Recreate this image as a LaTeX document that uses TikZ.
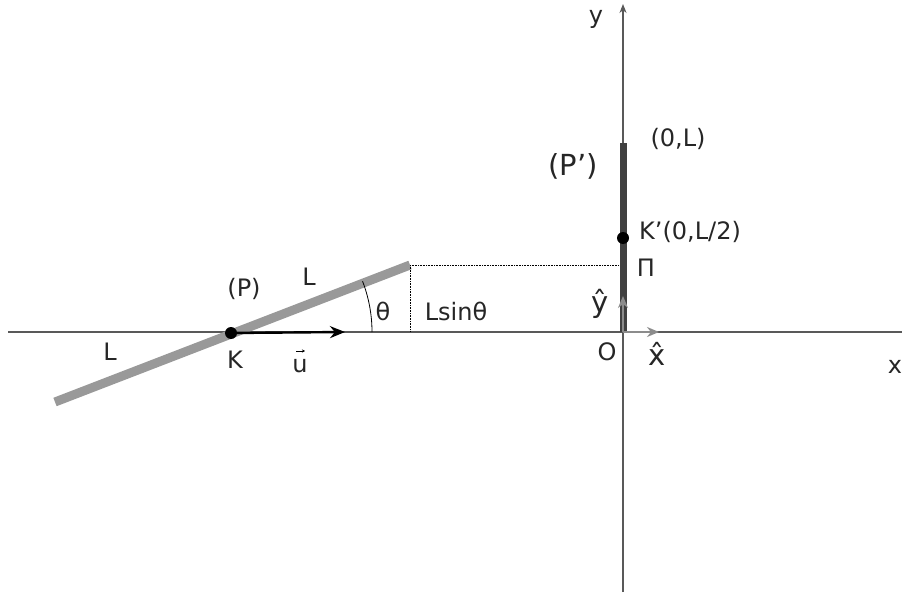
\documentclass[tikz,border=0pt]{standalone}
\usepackage{fontspec}
\setmainfont{DejaVu Sans}
\usetikzlibrary{arrows.meta}
\begin{document}
\begin{tikzpicture}[x=1pt,y=-1pt,
  axis/.style={draw=black!65,line width=1.3pt},
  lbl/.style={font=\fontsize{24}{26}\selectfont,inner sep=0pt,text=black!85},
  biglbl/.style={font=\fontsize{29}{31}\selectfont,inner sep=0pt,text=black!85},
  dot/.style={circle,fill=black,inner sep=0pt,minimum size=12pt},
  guide/.style={densely dotted,line width=0.6pt},
  unitvec/.style={draw=black!45,line width=2.2pt,-{Stealth[length=12pt,width=10pt]}}]
\useasboundingbox (0,0) rectangle (902,596);
% axes
\coordinate (xl) at (8,332);
\coordinate (xr) at (902,332);
\coordinate (yb) at (623,592);
\coordinate (yt) at (623,4);
\draw[axis] (xl) -- (xr);
\draw[axis,-{Stealth[length=9pt,width=7pt,fill=black]}] (yb) -- (yt);
% rod P
\coordinate (pa) at (55,402);
\coordinate (pb) at (410,265);
\draw[draw=black!40,line width=9pt] (pa) -- (pb);
\node[dot] (K) at (231,333) {};
\coordinate (ue) at (345,332);
\draw[line width=2.4pt,-{Stealth[length=15pt,width=12pt]}] (K.center) -- (ue);
% angle
\draw[line width=0.8pt] (372,332) arc[start angle=0,end angle=-21.1,radius=141];
% guides
\coordinate (pf) at (410,332);
\coordinate (pi) at (623,265);
\draw[guide] (pb) -- (pf);
\draw[guide] (pb) -- (pi);
% rod P'
\coordinate (qa) at (623,332);
\coordinate (qb) at (623,143);
\draw[draw=black!75,line width=7pt] (qa) -- (qb);
\node[dot] (Kp) at (623,238) {};
% unit vectors
\coordinate (O) at (623,332);
\coordinate (yh) at (623,296);
\coordinate (xh) at (659,332);
\draw[unitvec] (O) -- (yh);
\draw[unitvec] (O) -- (xh);
% labels
\node[lbl] at (596,19) {y};
\node[lbl] at (895,367) {x};
\node[lbl] at (607,352) {O};
\node[biglbl] at (657,354) {x̂};
\node[biglbl] at (600,304) {ŷ};
\node[lbl] at (646,268) {Π};
\node[lbl,anchor=west] at (639,232) {K’(0,L/2)};
\node[lbl] at (678,139) {(0,L)};
\node[biglbl] at (573,166) {(P’)};
\node[lbl] at (244,289) {(P)};
\node[lbl] at (309,277) {L};
\node[lbl] at (110,352) {L};
\node[lbl] at (235,360) {K};
\node[lbl] (ulab) at (300,366) {u};
\draw[line width=0.7pt,-{Stealth[length=3pt,width=3pt]}] (296,351) -- (305,351);
\node[lbl] at (383,311) {θ};
\node[lbl] at (456,311) {Lsinθ};
\end{tikzpicture}
\end{document}
